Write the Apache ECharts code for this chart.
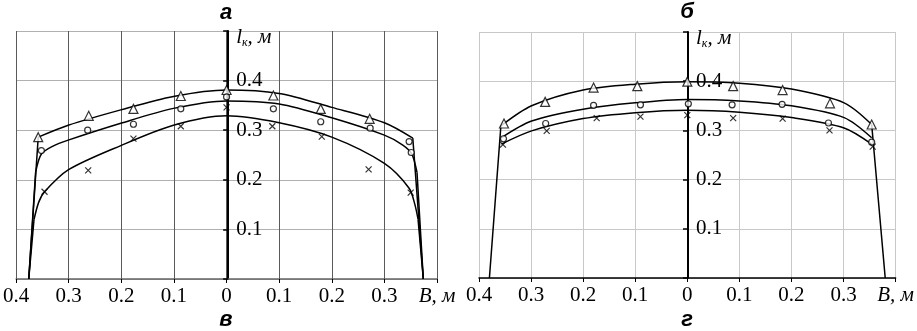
<!DOCTYPE html>
<html>
<head>
<meta charset="utf-8">
<script src="https://cdn.jsdelivr.net/npm/echarts@6/dist/echarts.min.js"></script>
<style>
  html, body { margin: 0; padding: 0; background: #fff; }
  #chart { width: 917px; height: 331px; }
</style>
</head>
<body>
<div id="chart"></div>
<script>
// panel a: computed curves [B, l], arc part between the corners
const aTopArc = [[-0.358, 0.286], [-0.301, 0.310], [-0.201, 0.341], [-0.101, 0.368], [0, 0.381], [0.1, 0.374], [0.2, 0.346], [0.3, 0.315], [0.354, 0.284]];
const aMidArc = [[-0.363, 0.215], [-0.352, 0.252], [-0.330, 0.268], [-0.301, 0.280], [-0.201, 0.314], [-0.101, 0.344], [0, 0.359], [0.1, 0.353], [0.2, 0.325], [0.3, 0.290], [0.335, 0.270], [0.352, 0.252], [0.362, 0.215]];
const aLowArc = [[-0.366, 0.120], [-0.357, 0.155], [-0.346, 0.176], [-0.301, 0.220], [-0.201, 0.269], [-0.101, 0.310], [0, 0.329], [0.1, 0.315], [0.2, 0.286], [0.3, 0.233], [0.347, 0.183], [0.358, 0.150], [0.364, 0.120]];
// panel a: steep ends of the curves down to l = 0
const aTopEnds = [[-0.376, 0], [-0.358, 0.286], "-", [0.354, 0.284], [0.374, 0]];
const aMidEnds = [[-0.376, 0], [-0.363, 0.215], "-", [0.362, 0.215], [0.374, 0]];
const aLowEnds = [[-0.376, 0], [-0.366, 0.120], "-", [0.364, 0.120], [0.374, 0]];
// panel a: measured points
const aTriangles = [[-0.358, 0.286], [-0.262, 0.329], [-0.177, 0.343], [-0.087, 0.369], [0, 0.381], [0.089, 0.370], [0.179, 0.343], [0.272, 0.323]];
const aCircles = [[-0.352, 0.259], [-0.264, 0.300], [-0.177, 0.312], [-0.087, 0.343], [0, 0.367], [0.089, 0.343], [0.179, 0.317], [0.273, 0.304], [0.347, 0.277], [0.351, 0.255]];
const aCrosses = [[-0.346, 0.176], [-0.263, 0.219], [-0.177, 0.283], [-0.087, 0.308], [0, 0.346], [0.087, 0.308], [0.181, 0.287], [0.270, 0.221], [0.350, 0.174]];

// panel b
const bTopArc = [[-0.358, 0.309], [-0.299, 0.350], [-0.2, 0.382], [-0.1, 0.394], [0, 0.399], [0.1, 0.396], [0.2, 0.384], [0.301, 0.356], [0.354, 0.312]];
const bMidArc = [[-0.357, 0.285], [-0.299, 0.319], [-0.2, 0.343], [-0.1, 0.356], [0, 0.363], [0.1, 0.360], [0.2, 0.350], [0.301, 0.326], [0.354, 0.285]];
const bLowArc = [[-0.357, 0.272], [-0.299, 0.299], [-0.2, 0.324], [-0.1, 0.336], [0, 0.341], [0.1, 0.337], [0.2, 0.326], [0.301, 0.305], [0.354, 0.272]];
const bEnds = [[-0.380, 0], [-0.358, 0.309], "-", [0.354, 0.312], [0.380, 0]];
const bTriangles = [[-0.352, 0.314], [-0.273, 0.358], [-0.180, 0.387], [-0.096, 0.390], [0, 0.399], [0.088, 0.390], [0.183, 0.382], [0.274, 0.355], [0.354, 0.312]];
const bCircles = [[-0.353, 0.283], [-0.272, 0.314], [-0.180, 0.351], [-0.090, 0.352], [0.002, 0.354], [0.086, 0.352], [0.182, 0.353], [0.271, 0.315], [0.354, 0.276]];
const bCrosses = [[-0.354, 0.271], [-0.270, 0.299], [-0.174, 0.325], [-0.090, 0.328], [0, 0.331], [0.088, 0.325], [0.183, 0.324], [0.273, 0.300], [0.356, 0.267]];

const xTicks = { min: -0.4, max: 0.4, step: 0.1 };
const yTicks = { min: 0, max: 0.5, step: 0.1 };
const panelTitles = ["а", "б"];
const panelCaptions = ["в", "г"];

const serif = "'Liberation Serif', 'DejaVu Serif', serif";
const crossPath = "path://M0,0L10,10M10,0L0,10";

const chart = echarts.init(document.getElementById("chart"));

function xAxisFor(idx, vGrid, lineColor) {
  return {
    type: "value", gridIndex: idx,
    min: xTicks.min, max: xTicks.max, interval: xTicks.step,
    axisLine: { show: true, onZero: false, lineStyle: { color: lineColor, width: 1.5 } },
    axisTick: { show: true, length: 4, lineStyle: { color: "#000" } },
    splitLine: { show: true, lineStyle: { color: vGrid, width: 1 } },
    axisLabel: {
      color: "#000", fontFamily: serif, fontSize: 21, margin: 7,
      formatter: function (v) {
        if (Math.abs(v - xTicks.max) < 1e-6) return "{n|B, м}";
        return Math.abs(v) < 1e-6 ? "0" : Math.abs(v).toFixed(1);
      },
      rich: { n: { fontFamily: serif, fontStyle: "italic", fontSize: 21, color: "#000" } }
    }
  };
}

// y axis is shifted into the grid so it stands at B = 0
function yAxisFor(idx, hGrid, shift) {
  return {
    type: "value", gridIndex: idx, position: "left", offset: -shift,
    min: yTicks.min, max: yTicks.max, interval: yTicks.step,
    axisLine: { show: true, onZero: false, lineStyle: { color: "#000", width: 2 } },
    axisTick: { show: true, inside: false, length: 5, lineStyle: { color: "#000", width: 1.5 } },
    splitLine: { show: true, lineStyle: { color: hGrid, width: 1 } },
    axisLabel: {
      inside: true, color: "#000", fontFamily: serif, fontSize: 21, margin: 8,
      formatter: function (v) {
        if (Math.abs(v - yTicks.max) < 1e-6) return "{n|l}{s|к}{n|, м}";
        if (Math.abs(v) < 1e-6) return "";
        return v.toFixed(1);
      },
      rich: {
        n: { fontFamily: serif, fontStyle: "italic", fontSize: 21, color: "#000", padding: [12, 0, 0, 0] },
        s: { fontFamily: serif, fontStyle: "italic", fontSize: 12, color: "#000", padding: [24, 0, 0, 0] }
      }
    }
  };
}

function curve(idx, data, smooth) {
  return {
    type: "line", xAxisIndex: idx, yAxisIndex: idx, data: data,
    smooth: smooth, showSymbol: false, silent: true, connectNulls: false,
    lineStyle: { color: "#000", width: 1.5 }, z: 3
  };
}

function points(idx, data, symbol, size) {
  return {
    type: "scatter", xAxisIndex: idx, yAxisIndex: idx, data: data,
    symbol: symbol, symbolSize: size, silent: true, z: 4,
    itemStyle: { color: symbol === crossPath ? "none" : "#fff", borderColor: "#000", borderWidth: 1.2 }
  };
}

function caption(text, x, y) {
  return { type: "text", x: x, y: y, style: { text: text, font: "bold italic 22px 'Liberation Sans'", fill: "#000", align: "center", verticalAlign: "middle" } };
}

const option = {
  backgroundColor: "#fff",
  animation: false,
  grid: [
    { left: 14, top: 31, width: 423, height: 248 },
    { left: 479, top: 32, width: 418, height: 246 }
  ],
  xAxis: [xAxisFor(0, "#5a5a5a", "#666"), xAxisFor(1, "#c8c8c8", "#000")],
  yAxis: [yAxisFor(0, "#b0b0b0", 212), yAxisFor(1, "#c8c8c8", 209)],
  graphic: [
    caption(panelTitles[0], 226, 13), caption(panelTitles[1], 687, 12),
    caption(panelCaptions[0], 226, 320), caption(panelCaptions[1], 687, 320)
  ],
  series: [
    curve(0, aTopArc, 0.3), curve(0, aMidArc, 0.3), curve(0, aLowArc, 0.3),
    curve(0, aTopEnds, false), curve(0, aMidEnds, false), curve(0, aLowEnds, false),
    points(0, aTriangles, "triangle", 9), points(0, aCircles, "circle", 6), points(0, aCrosses, crossPath, 6),
    curve(1, bTopArc, 0.3), curve(1, bMidArc, 0.3), curve(1, bLowArc, 0.3), curve(1, bEnds, false),
    points(1, bTriangles, "triangle", 9), points(1, bCircles, "circle", 6), points(1, bCrosses, crossPath, 6)
  ]
};

chart.setOption(option);
</script>
</body>
</html>
